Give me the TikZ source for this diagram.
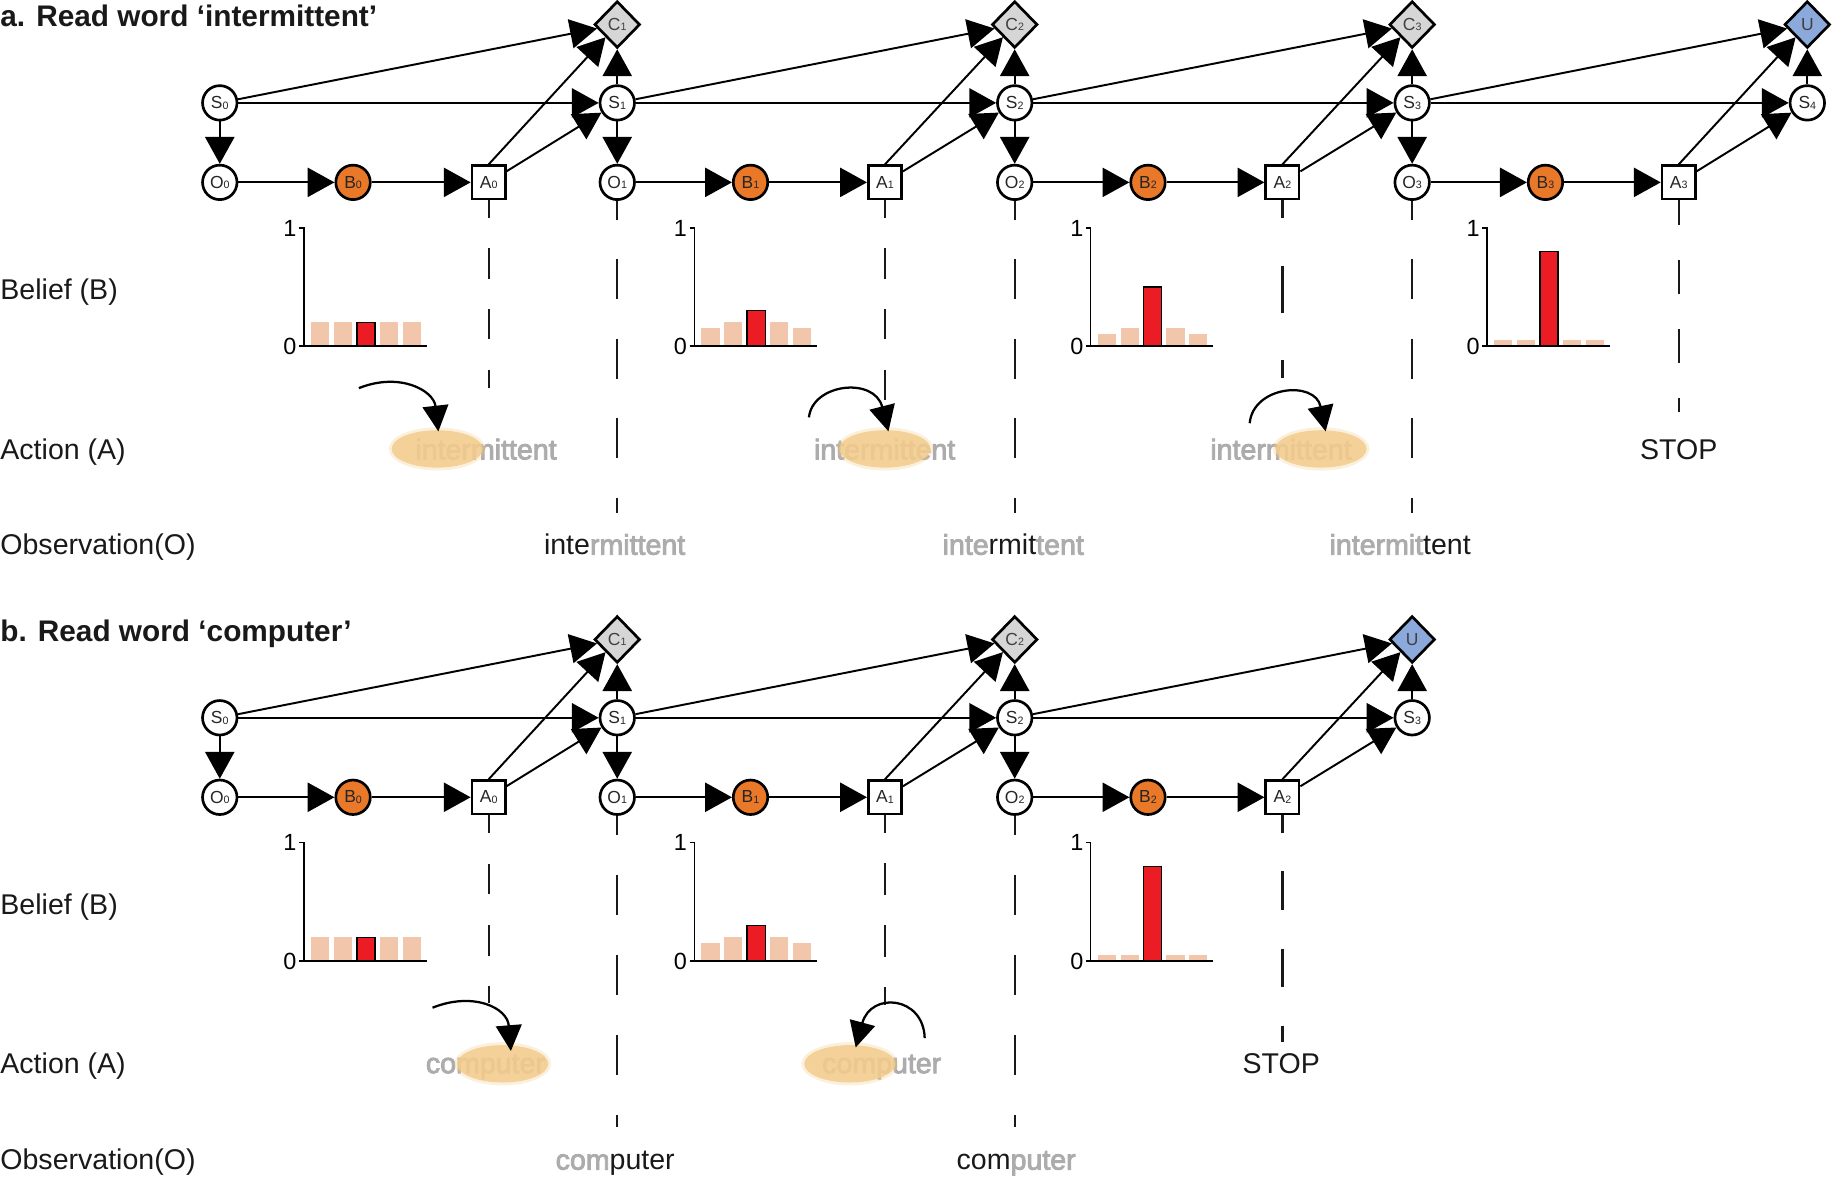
\documentclass[tikz,border=0pt]{standalone}
\usepackage{fontspec}
\setmainfont{Liberation Sans}
\newfontfamily\blurfont[FakeBold=3]{Liberation Sans}
\usetikzlibrary{shapes.geometric,arrows.meta}
\definecolor{orng}{RGB}{233,121,40}
\definecolor{dgray}{RGB}{214,214,214}
\definecolor{ublue}{RGB}{140,169,219}
\definecolor{pale}{RGB}{242,198,170}
\definecolor{rbar}{RGB}{236,28,36}
\definecolor{hl}{RGB}{243,204,140}
\definecolor{blurc}{RGB}{172,172,172}
\newcommand\nf{\fontsize{8.5}{9}\selectfont}
\newcommand\sub[1]{\raisebox{-0.3pt}{\fontsize{5.2}{5}\selectfont #1}}
\newcommand\lab{\fontsize{13.9}{16}\selectfont}
\newcommand\ttl{\fontsize{14.5}{16}\selectfont\bfseries}
\newcommand\numf{\fontsize{11.4}{12}\selectfont}
\newcommand\blr[1]{{\blurfont\color{blurc}#1}}
\newcommand\hist[7]{%
  \foreach \h [count=\i from 0] in {#3,#4,#5,#6,#7}{%
    \ifnum\i=2
      \filldraw[fill=rbar, draw=black, line width=0.8pt] ({#1+6+19.6*\i},#2) rectangle ({#1+21.5+19.6*\i},{#2-101*\h});
    \else
      \fill[pale] ({#1+6+19.6*\i},#2) rectangle ({#1+21.5+19.6*\i},{#2-101*\h});
    \fi
  }
  \draw[line width=0.6pt] (#1-4,#2-101) -- (#1,#2-101) -- (#1,#2);
  \draw[line width=1.2pt] (#1-4,#2) -- (#1+105,#2);
  \node[font=\numf, anchor=east, inner sep=0pt] (h1#1#2) at (#1-6,#2-101) {1};
  \node[font=\numf, anchor=east, inner sep=0pt] (h0#1#2) at (#1-6,#2) {0};
}
\begin{document}
\begin{tikzpicture}[x=0.02cm,y=-0.02cm,
  cnode/.style={circle, draw, line width=1.3pt, minimum size=0.59cm, inner sep=0pt, fill=white, font=\nf, text=black!85},
  snode/.style={rectangle, draw, line width=1.3pt, minimum size=0.57cm, inner sep=0pt, fill=white, font=\nf, text=black!85},
  bnode/.style={cnode, fill=orng},
  dnode/.style={diamond, draw, line width=1.3pt, minimum width=0.78cm, minimum height=0.8cm, inner sep=0pt, fill=dgray, font=\nf, text=black!75},
  unode/.style={dnode, fill=ublue},
  edge/.style={line width=0.95pt, -{Triangle[length=0.46cm,width=0.5cm]}},
  dl/.style={line width=1.1pt, black!90},
  curv/.style={line width=1.1pt, -{Triangle[length=0.44cm,width=0.44cm]}},
  lbl/.style={anchor=base west, inner sep=0pt, font=\lab, text=black!90},
  hlnode/.style={ellipse, fill=hl, fill opacity=0.85, minimum width=1.56cm, minimum height=0.64cm, inner sep=0pt},
  hlsoft/.style={ellipse, fill=hl, fill opacity=0.3, minimum width=1.66cm, minimum height=0.74cm, inner sep=0pt}
]
\useasboundingbox (0,0) rectangle (1568,1012);

% ---------- titles and row labels ----------
\node[lbl, font=\ttl] (ta) at (0,23) {a. Read word ‘intermittent’};
\node[lbl, font=\ttl] (tb) at (0,549) {b. Read word ‘computer’};
\node[lbl] (la1) at (0,256) {Belief (B)};
\node[lbl] (la2) at (0,393) {Action (A)};
\node[lbl] (la3) at (0,474.5) {Observation(O)};
\node[lbl] (lb1) at (0,782) {Belief (B)};
\node[lbl] (lb2) at (0,918) {Action (A)};
\node[lbl] (lb3) at (0,1000.5) {Observation(O)};

% ---------- panel a nodes ----------
\foreach \t/\xs/\xb/\xa in {0/188/302/418, 1/528/642/757, 2/868/982/1097, 3/1208/1322/1436}{
  \node[cnode] (aS\t) at (\xs,88) {S\sub{\t}};
  \node[cnode] (aO\t) at (\xs,156) {O\sub{\t}};
  \node[bnode] (aB\t) at (\xb,156) {B\sub{\t}};
  \node[snode] (aA\t) at (\xa,156) {A\sub{\t}};
}
\node[cnode] (aS4) at (1546,88) {S\sub{4}};
\foreach \t/\x in {1/528, 2/868, 3/1208}{
  \node[dnode] (aC\t) at (\x,21) {C\sub{\t}};
}
\node[unode] (aC4) at (1546,21) {U};

\foreach \t in {0,1,2,3}{
  \pgfmathtruncatemacro\n{\t+1}
  \draw[edge] (aS\t) -- (aS\n);
  \draw[edge] (aS\t) -- (aC\n);
  \draw[edge] (aS\t) -- (aO\t);
  \draw[edge] (aO\t) -- (aB\t);
  \draw[edge] (aB\t) -- (aA\t);
  \draw[edge] (aA\t.north) -- (aC\n);
  \draw[edge] (aA\t) -- (aS\n);
  \draw[edge] (aS\n) -- (aC\n);
}

% ---------- panel b nodes ----------
\foreach \t/\xs/\xb/\xa in {0/188/302/418, 1/528/642/757, 2/868/982/1097}{
  \node[cnode] (bS\t) at (\xs,614) {S\sub{\t}};
  \node[cnode] (bO\t) at (\xs,682) {O\sub{\t}};
  \node[bnode] (bB\t) at (\xb,682) {B\sub{\t}};
  \node[snode] (bA\t) at (\xa,682) {A\sub{\t}};
}
\node[cnode] (bS3) at (1208,614) {S\sub{3}};
\foreach \t/\x in {1/528, 2/868}{
  \node[dnode] (bC\t) at (\x,547) {C\sub{\t}};
}
\node[unode] (bC3) at (1208,547) {U};

\foreach \t in {0,1,2}{
  \pgfmathtruncatemacro\n{\t+1}
  \draw[edge] (bS\t) -- (bS\n);
  \draw[edge] (bS\t) -- (bC\n);
  \draw[edge] (bS\t) -- (bO\t);
  \draw[edge] (bO\t) -- (bB\t);
  \draw[edge] (bB\t) -- (bA\t);
  \draw[edge] (bA\t.north) -- (bC\n);
  \draw[edge] (bA\t) -- (bS\n);
  \draw[edge] (bS\n) -- (bC\n);
}

% ---------- dashed drop lines ----------
\foreach \nm/\x/\ye/\on/\off/\ph in {
  aA0/418/332/0.52cm/0.52cm/0.22cm, aO1/528/439/0.68cm/0.68cm/0.36cm,
  aA1/757/342/0.52cm/0.52cm/0.22cm, aO2/868/439/0.68cm/0.68cm/0.36cm,
  aA2/1097/323/0.8cm/0.82cm/0.5cm, aO3/1208/439/0.68cm/0.68cm/0.36cm,
  aA3/1436/352/0.58cm/0.6cm/0.16cm,
  bA0/418/858/0.52cm/0.53cm/0.22cm, bO1/528/964/0.68cm/0.69cm/0.36cm,
  bA1/757/860/0.54cm/0.52cm/0.24cm, bO2/868/964/0.68cm/0.69cm/0.36cm,
  bA2/1097/891/0.66cm/0.66cm/0.36cm}{
  \coordinate (e\nm) at (\x,\ye);
  \draw[dl, dash pattern=on \on off \off, dash phase=\ph] (\nm.south) -- (e\nm);
}

% ---------- belief histograms ----------
\hist{260}{296}{.2}{.2}{.2}{.2}{.2}
\hist{594}{296}{.15}{.2}{.3}{.2}{.15}
\hist{933}{296}{.1}{.15}{.5}{.15}{.1}
\hist{1272}{296}{.05}{.05}{.8}{.05}{.05}
\hist{260}{822}{.2}{.2}{.2}{.2}{.2}
\hist{594}{822}{.15}{.2}{.3}{.2}{.15}
\hist{933}{822}{.05}{.05}{.8}{.05}{.05}

% ---------- action words ----------
\node[lbl] (waA0) at (355,393) {\blr{intermittent}};
\node[lbl] (waA1) at (696,393) {\blr{intermittent}};
\node[lbl] (waA2) at (1035,393) {\blr{intermittent}};
\node[font=\lab, anchor=base, inner sep=0pt, text=black!90] (waA3) at (1436,393) {STOP};
\node[lbl] (wbA0) at (364,918) {\blr{computer}};
\node[lbl] (wbA1) at (703,918) {\blr{computer}};
\node[font=\lab, anchor=base, inner sep=0pt, text=black!90] (wbA2) at (1096,918) {STOP};

\foreach \nm/\x/\y in {aA0/374/384, aA1/757/384, aA2/1130/384, bA0/430/910, bA1/727/910}{
  \node[hlsoft] (hs\nm) at (\x,\y) {};
  \node[hlnode] (h\nm) at (\x,\y) {};
}

% ---------- curved action arrows ----------
\coordinate (saA0) at (307,332); \coordinate (taA0) at (375,369);
\draw[curv] (saA0) .. controls (342,318) and (371,334) .. (taA0);
\coordinate (saA1) at (692,357); \coordinate (taA1) at (760,369);
\draw[curv] (saA1) .. controls (695,328) and (748,322) .. (taA1);
\coordinate (saA2) at (1069,362); \coordinate (taA2) at (1134,369);
\draw[curv] (saA2) .. controls (1072,330) and (1125,325) .. (taA2);
\coordinate (sbA0) at (370,862); \coordinate (tbA0) at (437,899);
\draw[curv] (sbA0) .. controls (405,848) and (434,862) .. (tbA0);
\coordinate (sbA1) at (791,888); \coordinate (tbA1) at (732,896);
\draw[curv] (sbA1) .. controls (790,852) and (745,848) .. (tbA1);

% ---------- observation words ----------
\node[lbl] (woa1) at (465,474.5) {inte\blr{rmittent}};
\node[lbl] (woa2) at (806,474.5) {\blr{inte}rmit\blr{tent}};
\node[lbl] (woa3) at (1137,474.5) {\blr{intermit}tent};
\node[lbl] (wob1) at (475,1000.5) {\blr{com}puter};
\node[lbl] (wob2) at (818,1000.5) {com\blr{puter}};
\end{tikzpicture}
\end{document}
